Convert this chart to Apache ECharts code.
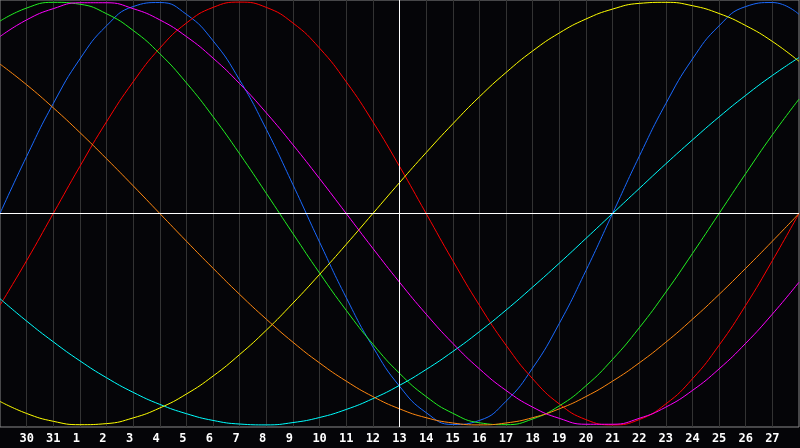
<!DOCTYPE html>
<html>
<head>
<meta charset="utf-8">
<script src="https://cdn.jsdelivr.net/npm/echarts@6/dist/echarts.min.js"></script>
<style>
  html, body { margin: 0; padding: 0; background: #050508; }
  #chart { width: 800px; height: 448px; }
</style>
</head>
<body>
<div id="chart"></div>
<script>
// days shown: 29 of previous month .. 28
const days = ['29', '30', '31', '1', '2', '3', '4', '5', '6', '7', '8', '9', '10', '11', '12',
  '13', '14', '15', '16', '17', '18', '19', '20', '21', '22', '23', '24', '25', '26', '27', '28'];
const today = '13';

// values, -100..100
const blueVals = [0, 27.0, 52.0, 73.1, 88.8, 97.9, 99.8, 94.2, 81.7, 63.1, 39.8, 13.6, -13.6, -39.8, -63.1,
  -81.7, -94.2, -99.8, -97.9, -88.8, -73.1, -52.0, -27.0, 0, 27.0, 52.0, 73.1, 88.8, 97.9, 99.8, 94.2];
const redVals = [-43.4, -22.3, 0, 22.3, 43.4, 62.3, 78.2, 90.1, 97.5, 100, 97.5, 90.1, 78.2, 62.3, 43.4,
  22.3, 0, -22.3, -43.4, -62.3, -78.2, -90.1, -97.5, -100, -97.5, -90.1, -78.2, -62.3, -43.4, -22.3, 0];
const greenVals = [91.0, 97.2, 99.9, 99.0, 94.5, 86.6, 75.6, 61.8, 45.8, 28.2, 9.5, -9.5, -28.2, -45.8, -61.8,
  -75.6, -86.6, -94.5, -99.0, -99.9, -97.2, -91.0, -81.5, -69.0, -54.1, -37.2, -18.9, 0, 18.9, 37.2, 54.1];
const magentaVals = [83.7, 91.6, 96.9, 99.7, 99.7, 96.9, 91.6, 83.7, 73.5, 61.4, 47.6, 32.5, 16.5, 0, -16.5,
  -32.5, -47.6, -61.4, -73.5, -83.7, -91.6, -96.9, -99.7, -99.7, -96.9, -91.6, -83.7, -73.5, -61.4, -47.6, -32.5];
const yellowVals = [-88.9, -94.6, -98.3, -99.9, -99.4, -96.7, -92.0, -85.4, -76.9, -66.7, -55.2, -42.4, -28.8, -14.6, 0,
  14.6, 28.8, 42.4, 55.2, 66.7, 76.9, 85.4, 92.0, 96.7, 99.4, 99.9, 98.3, 94.6, 88.9, 81.4, 72.0];
const cyanVals = [-40.3, -50.9, -60.7, -69.7, -77.7, -84.6, -90.3, -94.7, -97.9, -99.6, -100, -98.9, -96.5, -92.7, -87.6,
  -81.3, -73.8, -65.3, -55.9, -45.7, -34.8, -23.5, -11.8, 0, 11.8, 23.5, 34.8, 45.7, 55.9, 65.3, 73.8];
const orangeVals = [70.7, 60.9, 50.0, 38.3, 25.9, 13.1, 0, -13.1, -25.9, -38.3, -50.0, -60.9, -70.7, -79.3, -86.6,
  -92.4, -96.6, -99.1, -100, -99.1, -96.6, -92.4, -86.6, -79.3, -70.7, -60.9, -50.0, -38.3, -25.9, -13.1, 0];

const curves = [
  { data: blueVals, color: '#1a6aff' },
  { data: redVals, color: '#ff0000' },
  { data: greenVals, color: '#22f022' },
  { data: cyanVals, color: '#00ffff' },
  { data: yellowVals, color: '#ffff00' },
  { data: orangeVals, color: '#ff8811' },
  { data: magentaVals, color: '#ff00ff' }
];

const myChart = echarts.init(document.getElementById('chart'));

const series = curves.map(c => ({
  type: 'line',
  data: c.data,
  smooth: true,
  showSymbol: false,
  lineStyle: { color: c.color, width: 1 },
  itemStyle: { color: c.color },
  z: 3
}));

// center cross: zero line and today
series.push({
  type: 'line',
  data: [],
  z: 2,
  markLine: {
    silent: true,
    symbol: 'none',
    label: { show: false },
    lineStyle: { color: '#ffffff', type: 'solid', width: 1 },
    data: [{ yAxis: 0 }, { xAxis: today }]
  }
});

const option = {
  backgroundColor: '#050508',
  animation: false,
  grid: {
    left: 0, right: 1, top: 0, bottom: 21,
    show: true, borderColor: '#8a8a8a', borderWidth: 1
  },
  xAxis: {
    type: 'category',
    data: days,
    boundaryGap: false,
    axisLine: { show: false },
    axisTick: { show: false },
    axisLabel: {
      color: '#ffffff',
      fontWeight: 'bold',
      fontSize: 12,
      fontFamily: 'DejaVu Sans Mono',
      margin: 6,
      interval: (i) => i > 0 && i < days.length - 1,
      // single digits sit a little left of the grid line
      formatter: (v) => v.length === 1 ? v + ' ' : v
    },
    splitLine: { show: true, lineStyle: { color: '#333333', width: 1 } }
  },
  yAxis: {
    type: 'value',
    min: -101,
    max: 101,
    show: false,
    splitLine: { show: false }
  },
  series: series
};

option && myChart.setOption(option);
</script>
</body>
</html>
